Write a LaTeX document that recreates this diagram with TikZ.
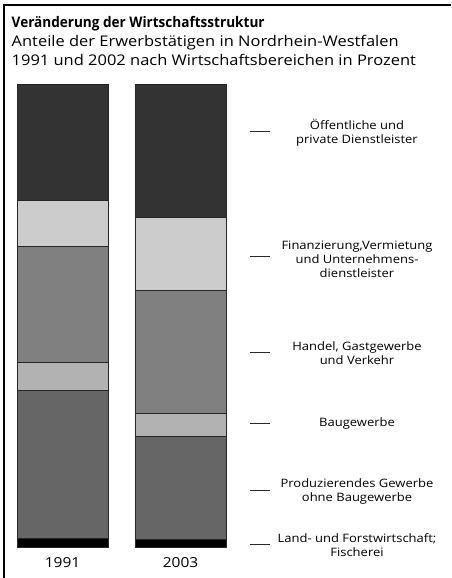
\documentclass[tikz,border=0pt]{standalone}
\usepackage{fontspec}
\setmainfont{Open Sans}
\newfontfamily\widefont[FakeStretch=1.12]{Open Sans}
\newfontfamily\titlefont[FakeStretch=0.93]{Open Sans}
\begin{document}
\begin{tikzpicture}[x=1pt,y=-1pt,
  seg/.style={draw=black!85,line width=0.9pt},
  lbl/.style={align=center,font=\widefont\fontsize{11.6}{14}\selectfont,inner sep=0pt},
  legdash/.style={draw=black!85,line width=0.9pt},
  yearlbl/.style={font=\widefont\fontsize{13.8}{16}\selectfont,inner sep=0pt},
  subline/.style={anchor=base west,inner sep=0pt,font=\widefont\fontsize{14.7}{17}\selectfont},
  frameline/.style={draw=black,line width=1.6pt}]
\useasboundingbox (0,0) rectangle (451,578);
% frame
\draw[frameline] (451,5) -- (3.8,5) -- (3.8,578);
% title
\node[anchor=base west,inner sep=0pt,font=\titlefont\fontsize{14.6}{17}\selectfont\bfseries] (title) at (11.5,28) {Veränderung der Wirtschaftsstruktur};
\node[subline] (sub1) at (11.5,47) {Anteile der Erwerbstätigen in Nordrhein-Westfalen};
\node[subline] (sub2) at (11.5,65.5) {1991 und 2002 nach Wirtschaftsbereichen in Prozent};
% bar 1991
\filldraw[seg,fill=black!80] (17,84) rectangle (108,200);
\filldraw[seg,fill=black!20] (17,200) rectangle (108,246);
\filldraw[seg,fill=black!50] (17,246) rectangle (108,362);
\filldraw[seg,fill=black!30] (17,362) rectangle (108,390.5);
\filldraw[seg,fill=black!60] (17,390.5) rectangle (108,538);
\filldraw[seg,fill=black] (17,538) rectangle (108,547);
% bar 2003
\filldraw[seg,fill=black!80] (135,84) rectangle (226,217);
\filldraw[seg,fill=black!20] (135,217) rectangle (226,290);
\filldraw[seg,fill=black!50] (135,290) rectangle (226,413);
\filldraw[seg,fill=black!30] (135,413) rectangle (226,436.5);
\filldraw[seg,fill=black!60] (135,436.5) rectangle (226,539.5);
\filldraw[seg,fill=black] (135,539.5) rectangle (226,547);
% years
\node[yearlbl] (y1) at (62.5,563) {1991};
\node[yearlbl] (y2) at (180.5,563) {2003};
% legend
\node[lbl] (l1) at (357,133) {Öffentliche und\\private Dienstleister};
\node[lbl] (l2) at (357,259) {Finanzierung,Vermietung\\und Unternehmens-\\dienstleister};
\node[lbl] (l3) at (357,353) {Handel, Gastgewerbe\\und Verkehr};
\node[lbl] (l4) at (357,423) {Baugewerbe};
\node[lbl] (l5) at (357,491.5) {Produzierendes Gewerbe\\ohne Baugewerbe};
\node[lbl] (l6) at (357,545) {Land- und Forstwirtschaft;\\Fischerei};
\foreach \n/\y in {1/131,2/256.5,3/352,4/423,5/490,6/544}{
  \coordinate (d\n a) at (250,\y);
  \coordinate (d\n b) at (269.5,\y);
  \draw[legdash] (d\n a) -- (d\n b);
}
\end{tikzpicture}
\end{document}
